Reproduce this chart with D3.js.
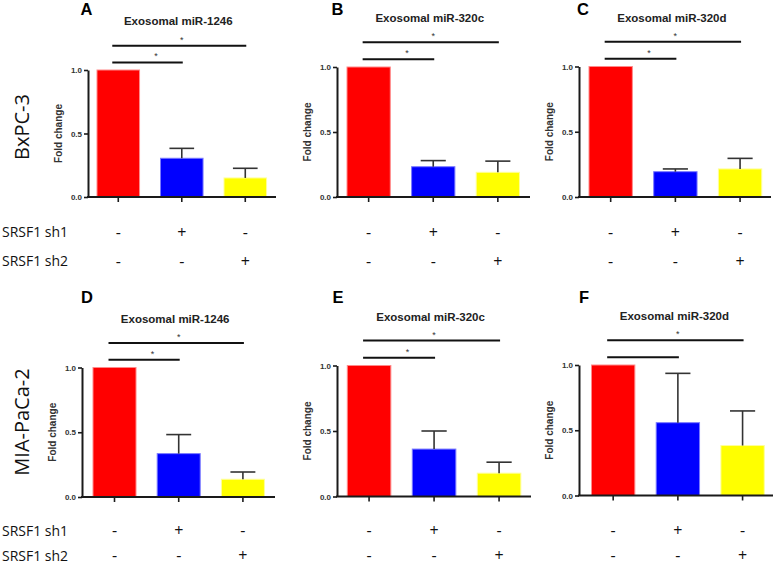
<!DOCTYPE html>
<html>
<head>
<meta charset="utf-8">
<script src="https://cdn.jsdelivr.net/npm/d3@7"></script>
<style>
  html, body { margin: 0; padding: 0; background: #fff; }
  svg { display: block; }
</style>
</head>
<body>
<div id="chart"></div>
<script>
// ---------- data ----------
const panelLetters = ["A", "B", "C", "D", "E", "F"];
const panelTitles = ["Exosomal miR-1246", "Exosomal miR-320c", "Exosomal miR-320d",
                     "Exosomal miR-1246", "Exosomal miR-320c", "Exosomal miR-320d"];
const cellLines = ["BxPC-3", "MIA-PaCa-2"];
const groups = ["Control", "SRSF1 sh1", "SRSF1 sh2"];
const rowLabels = ["SRSF1 sh1", "SRSF1 sh2"];
const sh1Signs = ["-", "+", "-"];
const sh2Signs = ["-", "-", "+"];
const meanValues = [
  [1.0, 0.305, 0.150],
  [1.0, 0.233, 0.190],
  [1.0, 0.194, 0.215],
  [1.0, 0.335, 0.137],
  [1.0, 0.362, 0.178],
  [1.0, 0.558, 0.383]
];
const errValues = [
  [0, 0.078, 0.076],
  [0, 0.047, 0.086],
  [0, 0.021, 0.081],
  [0, 0.147, 0.056],
  [0, 0.138, 0.084],
  [0, 0.378, 0.265]
];
const yTicks = [0, 0.5, 1.0];
const yTickLabels = ["0.0", "0.5", "1.0"];
const sigLower = ["*", "*", "*", "*", "*", ""];   // control vs sh1
const sigUpper = ["*", "*", "*", "*", "*", "*"];  // control vs sh2
const barColors = ["#ff0000", "#0000ff", "#ffff00"];
const barStrokes = ["#ff8a8a", "#7a7aff", "#ffff9a"];

// ---------- layout ----------
const W = 778, H = 567;
const layout = [
  { ax: 88,  barL: 97,    step: 63.5, axEnd: 276, y0: 197,   y1: 70 },
  { ax: 337, barL: 347,   step: 64.6, axEnd: 530, y0: 197,   y1: 67 },
  { ax: 579, barL: 589,   step: 64.7, axEnd: 771, y0: 197,   y1: 66.5 },
  { ax: 82,  barL: 93,    step: 64.2, axEnd: 275, y0: 497,   y1: 367.5 },
  { ax: 337, barL: 347.3, step: 65,   axEnd: 531, y0: 496.5, y1: 365.5 },
  { ax: 579, barL: 591.5, step: 64.7, axEnd: 773, y0: 495.5, y1: 365 }
];
const letterPos = [[80.5, 15], [331.5, 15], [577, 15], [81, 303], [332.5, 303], [579, 303]];
const signRowsY = [[232, 261], [530.5, 555.5]];
const cellLabelPos = [[22, 127], [22, 422]];
const rowLabelX = 2;

const svg = d3.select("#chart").append("svg")
  .attr("width", W).attr("height", H)
  .attr("viewBox", `0 0 ${W} ${H}`);

const axisColor = "#1a1a1a";
const sansBold = "'Liberation Sans', Arial, sans-serif";
const rowFont = "'Open Sans', 'Noto Sans', sans-serif";

panelLetters.forEach((letter, p) => {
  const L = layout[p];
  const pi = 0.33;
  const x = d3.scaleBand()
    .domain(groups)
    .range([L.barL, L.barL + L.step * (groups.length - pi)])
    .paddingInner(pi)
    .paddingOuter(0);
  const y = d3.scaleLinear().domain([0, 1]).range([L.y0, L.y1]);
  const g = svg.append("g");
  const cx = d => x(d) + x.bandwidth() / 2;

  // bars
  g.selectAll("rect.bar").data(groups).join("rect")
    .attr("class", "bar")
    .attr("x", d => x(d))
    .attr("width", x.bandwidth())
    .attr("y", (d, i) => y(meanValues[p][i]))
    .attr("height", (d, i) => y(0) - y(meanValues[p][i]))
    .attr("fill", (d, i) => barColors[i])
    .attr("stroke", (d, i) => barStrokes[i])
    .attr("stroke-width", 1);

  // error bars (upper only)
  groups.forEach((d, i) => {
    const e = errValues[p][i];
    if (e <= 0) return;
    const top = y(meanValues[p][i] + e);
    const capW = x.bandwidth() * 0.58;
    g.append("line")
      .attr("x1", cx(d)).attr("x2", cx(d))
      .attr("y1", y(meanValues[p][i])).attr("y2", top)
      .attr("stroke", "#333").attr("stroke-width", 1.6);
    g.append("line")
      .attr("x1", cx(d) - capW / 2).attr("x2", cx(d) + capW / 2)
      .attr("y1", top).attr("y2", top)
      .attr("stroke", "#333").attr("stroke-width", 1.6);
  });

  // y axis
  const yAxis = d3.axisLeft(y).tickValues(yTicks)
    .tickFormat((d, i) => yTickLabels[i]).tickSize(4).tickSizeOuter(0).tickPadding(2);
  const ya = g.append("g").attr("transform", `translate(${L.ax},0)`).call(yAxis);
  ya.select(".domain").attr("stroke", axisColor).attr("stroke-width", 2);
  ya.selectAll(".tick line").attr("stroke", axisColor).attr("stroke-width", 1.6);
  ya.selectAll(".tick text")
    .attr("font-family", sansBold).attr("font-weight", "bold")
    .attr("font-size", 8).attr("fill", "#333");

  // x axis
  g.append("line")
    .attr("x1", L.ax - 1).attr("x2", L.axEnd)
    .attr("y1", y(0)).attr("y2", y(0))
    .attr("stroke", axisColor).attr("stroke-width", 2);
  g.selectAll("line.xtick").data(groups).join("line")
    .attr("class", "xtick")
    .attr("x1", d => cx(d)).attr("x2", d => cx(d))
    .attr("y1", y(0)).attr("y2", y(0) + 5)
    .attr("stroke", axisColor).attr("stroke-width", 1.6);

  // y label
  g.append("text")
    .attr("transform", `translate(${L.ax - 26},${(y(0) + y(1)) / 2}) rotate(-90)`)
    .attr("text-anchor", "middle")
    .attr("font-family", sansBold).attr("font-weight", "bold")
    .attr("font-size", 10).attr("fill", "#333")
    .text("Fold change");

  // title
  g.append("text")
    .attr("x", cx(groups[1]) - 3.5)
    .attr("y", y(1) - 45)
    .attr("text-anchor", "middle")
    .attr("font-family", sansBold).attr("font-weight", "bold")
    .attr("font-size", 11.5).attr("fill", "#222")
    .text(panelTitles[p]);

  // panel letter
  svg.append("text")
    .attr("x", letterPos[p][0]).attr("y", letterPos[p][1])
    .attr("font-family", sansBold).attr("font-weight", "bold")
    .attr("font-size", 16.5).attr("fill", "#000")
    .text(letter);

  // significance lines
  const upperY = y(1.19), lowerY = y(1.06);
  g.append("line")
    .attr("x1", cx(groups[0]) - 6).attr("x2", cx(groups[2]) + 1)
    .attr("y1", upperY).attr("y2", upperY)
    .attr("stroke", "#111").attr("stroke-width", 2);
  g.append("line")
    .attr("x1", cx(groups[0]) - 6).attr("x2", cx(groups[1]) + 1)
    .attr("y1", lowerY).attr("y2", lowerY)
    .attr("stroke", "#111").attr("stroke-width", 2);
  g.append("text")
    .attr("x", cx(groups[1])).attr("y", upperY - 3)
    .attr("text-anchor", "middle")
    .attr("font-family", sansBold).attr("font-size", 9).attr("fill", "#333")
    .text(sigUpper[p]);
  g.append("text")
    .attr("x", (cx(groups[0]) + cx(groups[1])) / 2 + 6).attr("y", lowerY - 3)
    .attr("text-anchor", "middle")
    .attr("font-family", sansBold).attr("font-size", 9).attr("fill", "#333")
    .text(sigLower[p]);

  // +/- signs
  const row = Math.floor(p / 3);
  [sh1Signs, sh2Signs].forEach((signs, r) => {
    g.selectAll(null).data(groups).join("text")
      .attr("x", d => cx(d))
      .attr("y", signRowsY[row][r])
      .attr("dy", "0.36em")
      .attr("text-anchor", "middle")
      .attr("font-family", rowFont)
      .attr("font-size", 16).attr("fill", "#111")
      .text((d, i) => signs[i]);
  });
});

// row labels & cell line labels
cellLines.forEach((name, row) => {
  rowLabels.forEach((lab, r) => {
    svg.append("text")
      .attr("x", rowLabelX).attr("y", signRowsY[row][r])
      .attr("dy", "0.36em")
      .attr("font-family", rowFont)
      .attr("font-size", 14).attr("fill", "#111")
      .text(lab);
  });
  svg.append("text")
    .attr("transform", `translate(${cellLabelPos[row][0]},${cellLabelPos[row][1]}) rotate(-90)`)
    .attr("text-anchor", "middle")
    .attr("dy", "0.36em")
    .attr("font-family", rowFont)
    .attr("font-size", 20).attr("fill", "#111")
    .text(name);
});
</script>
</body>
</html>
